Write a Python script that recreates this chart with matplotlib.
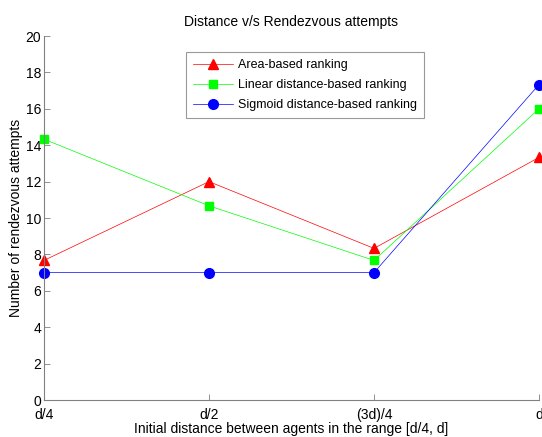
import matplotlib.pyplot as plt

# distance ranges and measured attempts
categories = ["d/4", "d/2", "(3d)/4", "d"]
area_based = [7.67, 12.0, 8.33, 13.33]
linear_based = [14.33, 10.67, 7.67, 16.0]
sigmoid_based = [7.0, 7.0, 7.0, 17.33]
y_ticks = [0, 2, 4, 6, 8, 10, 12, 14, 16, 18, 20]

plt.rcParams["font.family"] = ["Liberation Sans", "DejaVu Sans"]

fig = plt.figure(figsize=(5.42, 4.37), dpi=100)
ax = fig.add_axes([44 / 542, 37 / 437, 495 / 542, 364 / 437])

x = list(range(len(categories)))
ax.plot(x, area_based, color="red", linewidth=0.5, marker="^", markersize=7,
        label="Area-based ranking", clip_on=False)
ax.plot(x, linear_based, color="#00ff00", linewidth=0.5, marker="s", markersize=6,
        label="Linear distance-based ranking", clip_on=False)
ax.plot(x, sigmoid_based, color="blue", linewidth=0.5, marker="o", markersize=7,
        label="Sigmoid distance-based ranking", clip_on=False)

ax.set_xlim(0, 3)
ax.set_ylim(0, 20)
ax.set_xticks(x)
ax.set_xticklabels(categories)
ax.set_yticks(y_ticks)

for side in ["top", "right"]:
    ax.spines[side].set_visible(False)
for side in ["left", "bottom"]:
    ax.spines[side].set_color("#808080")
    ax.spines[side].set_linewidth(0.8)
ax.tick_params(direction="in", length=4, width=0.6, color="#808080",
               labelsize=10)
ax.tick_params(axis="x", pad=6)
ax.tick_params(axis="y", pad=2)

ax.set_title("Distance v/s Rendezvous attempts", fontsize=10, pad=7)
ax.set_xlabel("Initial distance between agents in the range [d/4, d]", fontsize=10, labelpad=0)
ax.set_ylabel("Number of rendezvous attempts", fontsize=10, labelpad=2)

leg = ax.legend(loc="upper left", bbox_to_anchor=(142 / 495, 1 - 16 / 364),
                fontsize=9, frameon=True, fancybox=False, borderaxespad=0,
                handlelength=3.2, handletextpad=0.4, labelspacing=0.65,
                borderpad=0.55)
leg.get_frame().set_edgecolor("#808080")
leg.get_frame().set_linewidth(0.8)

fig.savefig("out.png", dpi=100)
